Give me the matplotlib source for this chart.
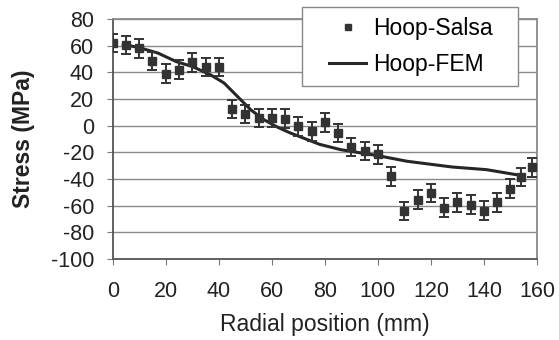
import matplotlib.pyplot as plt
import matplotlib.ticker as ticker
from matplotlib.patches import Rectangle

plt.rcParams['font.family'] = ['Liberation Sans', 'DejaVu Sans']
plt.rcParams['axes.unicode_minus'] = False

# Measured hoop stress (Salsa) with error bars
salsa_x = [0, 5, 10, 15, 20, 25, 30, 35, 40, 45, 50, 55, 60, 65, 70, 75, 80, 85,
           90, 95, 100, 105, 110, 115, 120, 125, 130, 135, 140, 145, 150, 154, 158]
salsa_y = [62, 60.5, 58, 48.5, 39, 42, 47.5, 44, 44, 12.5, 8.8, 5.8, 5.8, 5.2, -0.5,
           -4.3, 2.5, -5.5, -16, -19, -21.5, -38, -64, -55.4, -50.4, -61.6, -57.4,
           -59.2, -63.7, -57.4, -47.2, -38.4, -31.2]
salsa_err = [7] * len(salsa_x)

# FEM prediction
fem_x = [4, 10, 17, 24, 30, 37, 42, 47, 52, 57, 62, 67, 78, 86, 100, 111, 128, 141, 152, 155]
fem_y = [61, 58.5, 54.5, 48, 44.4, 38, 32, 22, 12, 4.5, -1, -5.5, -14, -18, -22.5,
         -26.7, -31, -33, -36.7, -37.5]

W, H = 559, 340
fig = plt.figure(figsize=(W / 100, H / 100), dpi=100, facecolor="white")
ax = fig.add_axes([112.7 / W, 1 - 259 / H, (537 - 112.7) / W, (259 - 19) / H])

ax.set_xlim(0, 160)
ax.set_ylim(-100, 80)
ax.xaxis.set_major_locator(ticker.MultipleLocator(20))
ax.yaxis.set_major_locator(ticker.MultipleLocator(20))

ax.grid(axis="y", color="#8a8a8a", lw=1.0, zorder=0)
ax.spines[["top", "right"]].set_color("#8a8a8a")
ax.spines[["left", "bottom"]].set_color("#555555")
for s in ax.spines.values():
    s.set_linewidth(1.3)

ax.tick_params(axis="x", direction="out", length=4, color="#777777",
               labelsize=15.5, labelcolor="#222222", pad=12)
ax.tick_params(axis="y", direction="out", length=4, color="#777777",
               labelsize=15.5, labelcolor="#222222", pad=9.5)

ax.plot(fem_x, fem_y, color="#262626", lw=2.2, zorder=3)
ax.errorbar(salsa_x, salsa_y, yerr=salsa_err, fmt="s", color="#333333",
            markersize=5.5, capsize=3.5, elinewidth=1.4, capthick=1.4, zorder=4)

fig.text(325 / W, 0.046, "Radial position (mm)", fontsize=16.5,
         color="#222222", ha="center", va="center")
fig.text(24 / W, 1 - 139 / H, "Stress (MPa)", fontsize=16.5, fontweight="bold",
         color="#222222", ha="center", va="center", rotation=90)

# Legend: box drawn separately so its padding can match the original
fig.patches.append(Rectangle((302 / W, 1 - 86 / H), 216 / W, 79 / H,
                             transform=fig.transFigure, facecolor="white",
                             edgecolor="#888888", lw=1.0, zorder=5))
salsa_handle = plt.Line2D([], [], marker="s", ls="none", color="#333333", markersize=5)
fem_handle = plt.Line2D([], [], color="#262626", lw=2.2)
leg = fig.legend([salsa_handle, fem_handle], ["Hoop-Salsa", "Hoop-FEM"],
                 loc="center", bbox_to_anchor=(411 / W, 1 - 46.5 / H),
                 bbox_transform=fig.transFigure, fontsize=16.5, frameon=False,
                 handlelength=1.6, handletextpad=0.3, borderpad=0,
                 borderaxespad=0, labelspacing=0.6)
leg.set_zorder(6)

fig.savefig("out.png", dpi=100, facecolor="white")
